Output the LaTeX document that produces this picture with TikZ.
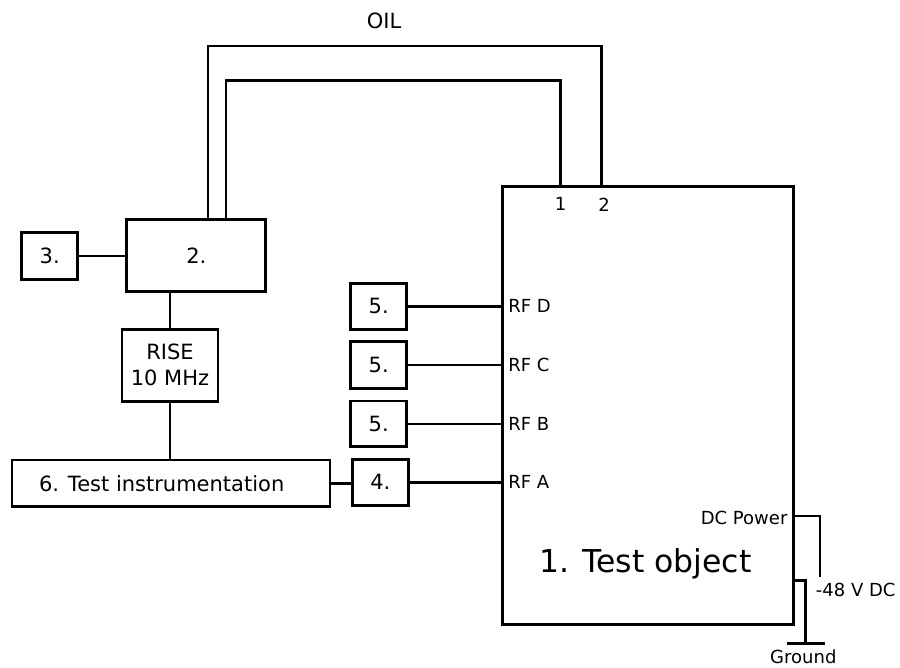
\documentclass[tikz,border=0pt]{standalone}
\usepackage{fontspec}
\setmainfont{DejaVu Sans}
\begin{document}
\begin{tikzpicture}[x=1pt,y=-1pt,
  conn/.style={line width=2.6pt, line join=miter},
  boxnode/.style={draw, line width=2.8pt, inner sep=0pt, font=\fontsize{21}{26}\selectfont, align=center},
  lbl/.style={inner sep=0pt, font=\fontsize{18}{22}\selectfont},
  big/.style={inner sep=0pt, font=\fontsize{31.5}{36}\selectfont}]
\useasboundingbox (0,0) rectangle (900,667);

% main blocks
\node[boxnode, minimum width=291pt, minimum height=438pt] (obj) at (648,405.8) {};
\node[big] (t1) at (645.4,563.5) {1. Test object};
\node[boxnode, minimum width=139pt, minimum height=72pt] (b2) at (196.3,255.8) {2.};
\node[boxnode, minimum width=56pt, minimum height=47pt] (b3) at (49.7,255.8) {3.};
\node[boxnode, minimum width=96pt, minimum height=72pt] (rise) at (170,365.2) {RISE\\10 MHz};
\node[boxnode, minimum width=318pt, minimum height=46.7pt] (b6) at (171,483.3) {};
\node[inner sep=0pt, font=\fontsize{21}{26}\selectfont] (t6) at (161.7,484) {6. Test instrumentation};
\node[boxnode, minimum width=56pt, minimum height=46pt] (b4) at (380.3,482.3) {4.};
\node[boxnode, minimum width=56pt, minimum height=46pt] (b5d) at (378.7,306.3) {5.};
\node[boxnode, minimum width=56pt, minimum height=46.6pt] (b5c) at (378.7,365) {5.};
\node[boxnode, minimum width=56pt, minimum height=45.7pt] (b5b) at (378.7,423.8) {5.};

% OIL lines
\node[inner sep=0pt, font=\fontsize{21}{26}\selectfont] (oil) at (384,21) {OIL};
\draw[conn] ([xshift=11.7pt]b2.north) -- ++(0,-172.3) -| ([xshift=-46.3pt]obj.north);
\draw[conn] ([xshift=29.7pt]b2.north) -- ++(0,-137.7) -| ([xshift=-87.3pt]obj.north);
\node[lbl] (p1) at ([xshift=-87.3pt,yshift=-18.3pt]obj.north) {1};
\node[lbl] (p2) at ([xshift=-44pt,yshift=-19.3pt]obj.north) {2};

% left side connectors
\draw[conn] (b3.east) -- (b2.west);
\draw[conn] (rise.north) -- (rise.north |- b2.south);
\draw[conn] (rise.south) -- (rise.south |- b6.north);
\draw[conn] (b6.east) -- (b6.east -| b4.west);

% RF connectors
\draw[conn] (b5d.east) -- (b5d.east -| obj.west);
\draw[conn] (b5c.east) -- (b5c.east -| obj.west);
\draw[conn] (b5b.east) -- (b5b.east -| obj.west);
\draw[conn] (b4.east) -- (b4.east -| obj.west);
\node[lbl, anchor=west] (rfd) at ([xshift=7pt]b5d.east -| obj.west) {RF D};
\node[lbl, anchor=west] (rfc) at ([xshift=7pt]b5c.east -| obj.west) {RF C};
\node[lbl, anchor=west] (rfb) at ([xshift=7pt]b5b.east -| obj.west) {RF B};
\node[lbl, anchor=west] (rfa) at ([xshift=7pt]b4.east -| obj.west) {RF A};

% DC power and ground
\coordinate (dcend) at (820,576.7);
\coordinate (gnd) at (805.3,643.3);
\draw[conn] ([yshift=-110.2pt]obj.east) -| (dcend);
\node[lbl, anchor=east] (dcp) at ([xshift=-7.3pt,yshift=-112.2pt]obj.east) {DC Power};
\node[lbl, anchor=west] (vdc) at (815.7,590) {-48 V DC};
\draw[conn] ([yshift=-174.9pt]obj.east) -| (gnd);
\draw[conn] ([xshift=-18.6pt]gnd) -- ([xshift=19.7pt]gnd);
\node[lbl] (gtxt) at (803.3,656.5) {Ground};
\end{tikzpicture}
\end{document}
